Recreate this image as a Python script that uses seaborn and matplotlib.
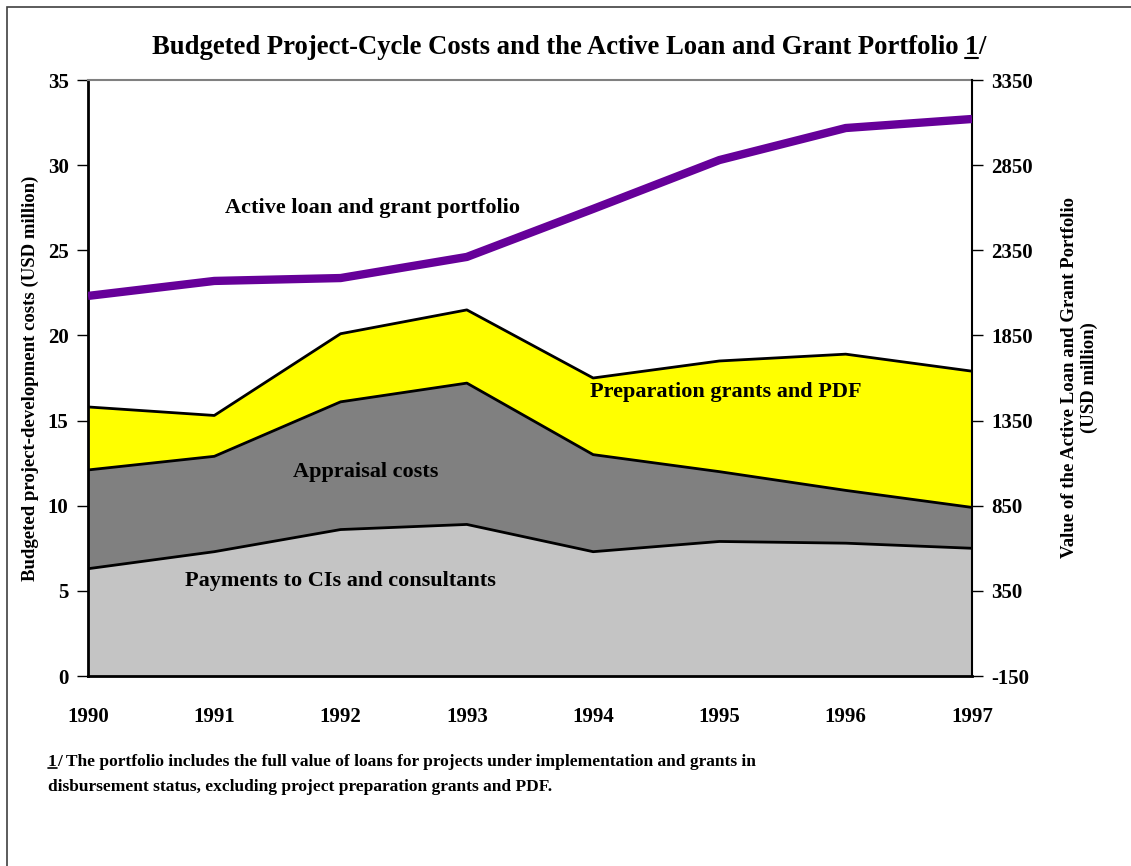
import numpy as np
import pandas as pd
import seaborn as sns
import matplotlib
matplotlib.use("Agg")
import matplotlib.pyplot as plt
from matplotlib.lines import Line2D
from matplotlib.patches import Rectangle

years = [1990, 1991, 1992, 1993, 1994, 1995, 1996, 1997]
payments = [6.3, 7.3, 8.6, 8.9, 7.3, 7.9, 7.8, 7.5]
appraisal = [5.8, 5.6, 7.5, 8.3, 5.7, 4.1, 3.1, 2.4]
preparation = [3.7, 2.4, 4.0, 4.3, 4.5, 6.5, 8.0, 8.0]
portfolio = [2082, 2170, 2187, 2311, 2593, 2880, 3068, 3121]
left_ticks = [0, 5, 10, 15, 20, 25, 30, 35]
right_ticks = [-150, 350, 850, 1350, 1850, 2350, 2850, 3350]

sns.set_theme(style="white")
plt.rcParams['font.family'] = ['Liberation Serif', 'DejaVu Serif']
plt.rcParams['font.weight'] = 'bold'
plt.rcParams['text.color'] = 'black'
plt.rcParams['axes.labelcolor'] = 'black'
plt.rcParams['xtick.color'] = 'black'
plt.rcParams['ytick.color'] = 'black'

fig = plt.figure(figsize=(11.31, 8.66), dpi=100)
ax = fig.add_axes([88/1131, 1-676/866, (972-88)/1131, (676-80)/866])

p = np.array(payments)
a = p + np.array(appraisal)
g = a + np.array(preparation)
x = np.array(years)

ax.fill_between(x, 0, p, facecolor="#c4c4c4", edgecolor="none", zorder=1)
ax.fill_between(x, p, a, facecolor="#808080", edgecolor="none", zorder=1)
ax.fill_between(x, a, g, facecolor="#ffff00", edgecolor="none", zorder=1)
for top in (p, a, g):
    ax.plot(x, top, color="black", lw=2, zorder=2)

ax.set_xlim(1990, 1997)
ax.set_ylim(0, 35)
ax.set_xticks(years)
ax.set_xticklabels([str(y) for y in years], fontsize=15, fontweight='bold')
ax.set_yticks(left_ticks)
ax.set_yticklabels([str(t) for t in left_ticks], fontsize=15, fontweight='bold')
ax.tick_params(axis='x', direction='in', length=8, width=1, color='black', pad=22)
ax.tick_params(axis='y', direction='out', length=8, width=1, color='black', pad=6, left=True)
ax.set_ylabel("Budgeted project-development costs (USD million)", fontsize=13.5,
              fontweight='bold', labelpad=6)
for s in ('left', 'bottom'):
    ax.spines[s].set_color('black')
    ax.spines[s].set_linewidth(2)
ax.spines['top'].set_color('#808080')
ax.spines['top'].set_linewidth(1.5)
ax.spines['right'].set_visible(False)

ax2 = ax.twinx()
df = pd.DataFrame({"year": years, "portfolio": portfolio})
sns.lineplot(data=df, x="year", y="portfolio", ax=ax2, color="#660099", lw=6,
             solid_capstyle='butt', zorder=5)
ax2.set_ylim(-150, 3350)
ax2.set_yticks(right_ticks)
ax2.set_yticklabels([str(t) for t in right_ticks], fontsize=15, fontweight='bold')
ax2.tick_params(axis='y', direction='out', length=8, width=1, color='black', pad=6, right=True)
ax2.set_ylabel("Value of the Active Loan and Grant Portfolio\n(USD million)", fontsize=13.5,
               fontweight='bold', labelpad=20)
ax2.set_xlabel("")
ax2.spines['right'].set_color('black')
ax2.spines['right'].set_linewidth(1.5)
for s in ('left', 'bottom', 'top'):
    ax2.spines[s].set_visible(False)

ax.text(1992.25, 27.5, "Active loan and grant portfolio", fontsize=16, fontweight='bold', ha='center', va='center')
ax.text(1995.05, 16.7, "Preparation grants and PDF", fontsize=16, fontweight='bold', ha='center', va='center')
ax.text(1992.2, 12.0, "Appraisal costs", fontsize=16, fontweight='bold', ha='center', va='center')
ax.text(1992.0, 5.6, "Payments to CIs and consultants", fontsize=16, fontweight='bold', ha='center', va='center')

# title
TS = 19.2
t_main = fig.text(152/1131, 1-48/866, "Budgeted Project-Cycle Costs and the Active Loan and Grant Portfolio ",
                  fontsize=TS, fontweight='bold', ha='left', va='center')
fig.canvas.draw()
r = fig.canvas.get_renderer()
bb = t_main.get_window_extent(r)
x1 = bb.x1 / fig.bbox.width
t_one = fig.text(x1, 1-48/866, "1", fontsize=TS, fontweight='bold', ha='left', va='center')
fig.canvas.draw()
bb1 = t_one.get_window_extent(r)
fig.text(bb1.x1 / fig.bbox.width, 1-48/866, "/", fontsize=TS, fontweight='bold', ha='left', va='center')
fig.add_artist(Line2D([bb1.x0/fig.bbox.width, bb1.x1/fig.bbox.width],
                      [(bb1.y0+3)/fig.bbox.height]*2, color='black', lw=1.5))

# footnote
f1 = fig.text(48/1131, 1-762/866, "1", fontsize=12.5, fontweight='bold', ha='left', va='center')
fig.canvas.draw()
fb = f1.get_window_extent(r)
fig.text(fb.x1/fig.bbox.width, 1-762/866,
         "/ The portfolio includes the full value of loans for projects under implementation and grants in",
         fontsize=12.5, fontweight='bold', ha='left', va='center')
fig.add_artist(Line2D([fb.x0/fig.bbox.width, fb.x1/fig.bbox.width],
                      [(fb.y0+2)/fig.bbox.height]*2, color='black', lw=1.2))
fig.text(48/1131, 1-787/866,
         "disbursement status, excluding project preparation grants and PDF.",
         fontsize=12.5, fontweight='bold', ha='left', va='center')

# outer frame
fig.add_artist(Rectangle((7/1131, -0.1), 1.2, 1-7/866+0.1, transform=fig.transFigure,
                         fill=False, edgecolor='#404040', lw=1.2))

fig.savefig("out.png", dpi=100)
